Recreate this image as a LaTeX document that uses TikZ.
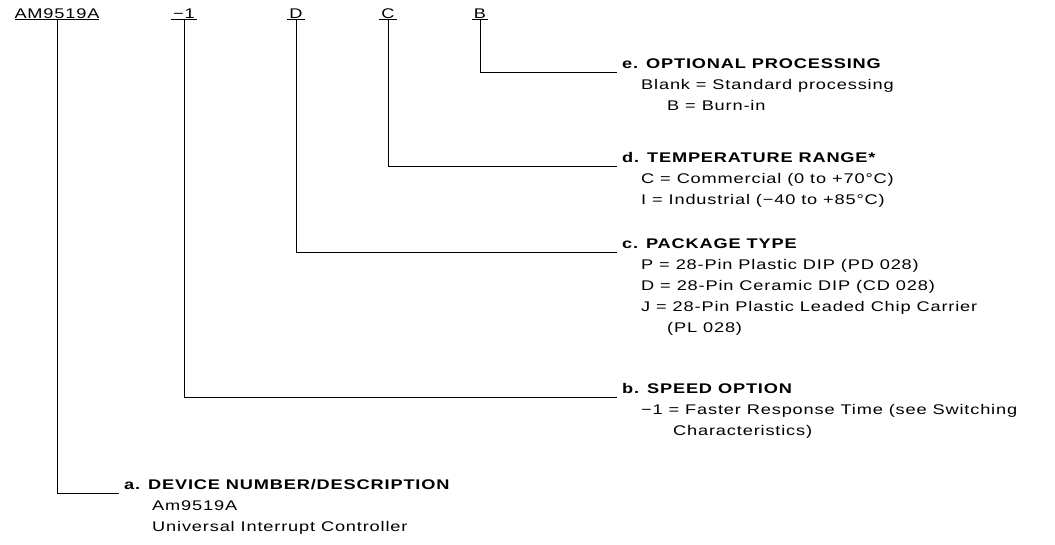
\documentclass[tikz,border=0pt]{standalone}
\usepackage{fontspec}
\setmainfont{Liberation Sans}[FakeStretch=1.3,LetterSpace=6]
\begin{document}
\begin{tikzpicture}[x=1pt,y=-1pt,
  field/.style={inner sep=0pt,anchor=base,font=\fontsize{14}{16}\selectfont},
  head/.style={inner sep=0pt,anchor=base west,font=\fontsize{14}{16}\selectfont\bfseries},
  desc/.style={inner sep=0pt,anchor=base west,font=\fontsize{14}{16}\selectfont},
  lead/.style={line width=1pt}]
\useasboundingbox (0,0) rectangle (1055,544);
% ordering code fields
\node[field] (devno) at (57,18) {\underline{AM9519A}};
\node[field] (speed) at (184,18) {\underline{\,−1\,}};
\node[field] (pkg) at (296,18) {\underline{\,D\,}};
\node[field] (temp) at (388,18) {\underline{\,C\,}};
\node[field] (proc) at (480,18) {\underline{\,B\,}};
% e
\node[head] (procH) at (622,68) {e. OPTIONAL PROCESSING};
\node[desc] at (641,89) {Blank = Standard processing};
\node[desc] at (667,110) {B = Burn-in};
% d
\node[head] (tempH) at (622,162) {d. TEMPERATURE RANGE*};
\node[desc] at (641,183) {C = Commercial (0 to +70°C)};
\node[desc] at (641,204) {I = Industrial (−40 to +85°C)};
% c
\node[head] (pkgH) at (622,248) {c. PACKAGE TYPE};
\node[desc] at (641,269) {P = 28-Pin Plastic DIP (PD 028)};
\node[desc] at (641,290) {D = 28-Pin Ceramic DIP (CD 028)};
\node[desc] at (641,311) {J = 28-Pin Plastic Leaded Chip Carrier};
\node[desc] at (667,332) {(PL 028)};
% b
\node[head] (speedH) at (622,393) {b. SPEED OPTION};
\node[desc] at (641,414) {−1 = Faster Response Time (see Switching};
\node[desc] at (673,435) {Characteristics)};
% a
\node[head] (devnoH) at (124,489) {a. DEVICE NUMBER/DESCRIPTION};
\node[desc] at (152,510) {Am9519A};
\node[desc] at (152,531) {Universal Interrupt Controller};
% leads
\draw[lead] (proc.south) |- ([xshift=-5pt,yshift=-4.5pt]procH.base west);
\draw[lead] (temp.south) |- ([xshift=-5pt,yshift=-4.5pt]tempH.base west);
\draw[lead] (pkg.south) |- ([xshift=-5pt,yshift=-4.5pt]pkgH.base west);
\draw[lead] (speed.south) |- ([xshift=-5pt,yshift=-4.5pt]speedH.base west);
\draw[lead] (devno.south) |- ([xshift=-5pt,yshift=-4.5pt]devnoH.base west);
\end{tikzpicture}
\end{document}
